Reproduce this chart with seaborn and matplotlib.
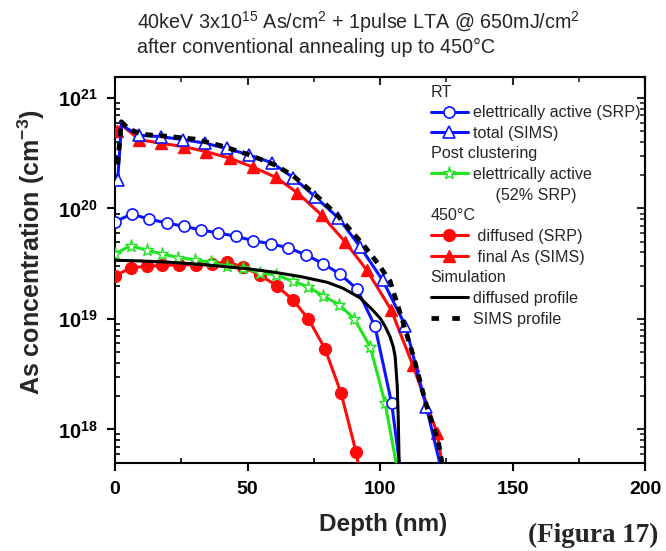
import numpy as np
import pandas as pd
import matplotlib
matplotlib.use("Agg")
import matplotlib.pyplot as plt
import seaborn as sns
from matplotlib.lines import Line2D
from matplotlib.ticker import MultipleLocator, LogLocator, FuncFormatter, NullFormatter

# ---------------- data ----------------
# RT, electrically active (SRP) - blue open circles
rt_srp_x = [0, 6.3, 13, 19.5, 26, 32.3, 39, 45.7, 52.2, 58.8, 65.4, 72.1, 78.6, 84.9, 91.4, 98.1, 104.4, 110.9]
rt_srp_y = [7.6e19, 8.9e19, 8.0e19, 7.4e19, 6.9e19, 6.4e19, 6.0e19, 5.6e19, 5.1e19, 4.8e19, 4.4e19, 3.8e19,
            3.16e19, 2.55e19, 1.86e19, 8.6e18, 1.72e18, 1.1e17]

# RT, total (SIMS) - blue open triangles
rt_sims_x = [1.0, 2.5, 4.5, 9.2, 17.2, 25.8, 34, 42.1, 50.7, 59.1, 67.3, 75.5, 84.3, 92.5, 101, 109.6, 117.5, 125.5]
rt_sims_y = [1.8e20, 6.0e20, 5.3e20, 4.6e20, 4.47e20, 4.2e20, 3.9e20, 3.5e20, 3.05e20, 2.6e20, 1.9e20, 1.28e20,
             8.2e19, 4.5e19, 2.24e19, 8.7e18, 1.6e18, 2.5e17]
rt_sims_marks = [0] + list(range(3, 18))

# Post clustering, electrically active (52% SRP) - green open stars
pc_x = [0, 5.9, 11.9, 17.9, 23.9, 30.2, 36.1, 42.1, 48.4, 54.7, 60.8, 67.1, 73, 78.4, 84.6, 90.3, 96.3, 101.9, 107.9]
pc_y = [3.9e19, 4.6e19, 4.2e19, 3.87e19, 3.6e19, 3.43e19, 3.25e19, 3.0e19, 2.9e19, 2.62e19, 2.5e19, 2.2e19,
        1.95e19, 1.62e19, 1.35e19, 1.0e19, 5.6e18, 1.74e18, 2.9e17]

# 450C, diffused (SRP) - red filled circles
d_srp_x = [0, 5.9, 11.9, 17.9, 24.3, 30.6, 36.5, 42.4, 48.4, 54.7, 61, 67.1, 73, 79.2, 85.3, 91.0, 97.0]
d_srp_y = [2.45e19, 2.9e19, 3.0e19, 3.05e19, 3.1e19, 3.1e19, 3.15e19, 3.28e19, 2.95e19, 2.5e19, 2.0e19, 1.49e19,
           1.0e19, 5.4e18, 2.14e18, 6.2e17, 1.0e17]

# 450C, final As (SIMS) - red filled triangles
f_sims_x = [0.9, 2.5, 9.2, 17.2, 26, 34.4, 43.4, 52.2, 60.6, 68.8, 78, 86.8, 95.1, 104.2, 112.4, 121.6, 126.8]
f_sims_y = [5.0e20, 5.7e20, 4.2e20, 3.9e20, 3.63e20, 3.27e20, 2.85e20, 2.36e20, 1.92e20, 1.39e20, 8.7e19, 5.0e19,
            2.75e19, 1.21e19, 3.8e18, 9.2e17, 1.5e17]
f_sims_marks = [0] + list(range(2, 17))

# Simulation: diffused profile - black solid
sim_d_x = [0, 10, 20, 30, 40, 50, 60, 70, 80, 86, 92.5, 97, 100, 102, 103.8, 105, 105.7, 106.5, 106.9, 107.2, 107.3]
sim_d_y = [3.4e19, 3.35e19, 3.27e19, 3.15e19, 3.0e19, 2.85e19, 2.65e19, 2.42e19, 2.15e19, 1.9e19, 1.55e19,
           1.22e19, 1.02e19, 8.5e18, 6.9e18, 5.6e18, 4.6e18, 2.5e18, 1.23e18, 5e17, 1e17]

# Simulation: SIMS profile - black dashed
sim_s_x = [1.0, 2.4, 5, 10, 20, 30, 40, 50, 60, 67, 77.4, 84.3, 93.7, 98.7, 103.8, 108.2, 112.6, 117.6, 122, 125.5]
sim_s_y = [2.5e20, 6.1e20, 5.3e20, 4.7e20, 4.5e20, 4.25e20, 3.7e20, 3.1e20, 2.5e20, 2.0e20, 1.22e20, 8.5e19,
           4.7e19, 3.3e19, 2.2e19, 1.02e19, 4.6e18, 1.62e18, 7.8e17, 2.5e17]

x_ticks = [0, 50, 100, 150, 200]

BLUE = "#0a14ff"
RED = "#ff0a0a"
GREEN = "#1ee61e"

# ---------------- style ----------------
sns.set_theme(style="ticks")
plt.rcParams["font.family"] = ["Liberation Sans", "DejaVu Sans"]
plt.rcParams["mathtext.fontset"] = "custom"
plt.rcParams["mathtext.rm"] = "Liberation Sans"
plt.rcParams["mathtext.bf"] = "Liberation Sans:bold"
plt.rcParams["mathtext.default"] = "regular"

fig = plt.figure(figsize=(6.66, 5.51), dpi=100)
ax = fig.add_axes([115 / 666, 1 - 462.7 / 551, 530 / 666, (462.7 - 77) / 551])
ax.set_yscale("log")

def draw(x, y, **kw):
    df = pd.DataFrame({"x": x, "y": y})
    sns.lineplot(data=df, x="x", y="y", ax=ax, estimator=None, sort=False, legend=False, **kw)

LW = 2.2
draw(d_srp_x, d_srp_y, color=RED, lw=LW, marker="o", markersize=8.5,
     markerfacecolor=RED, markeredgecolor=RED, markeredgewidth=1, zorder=3)
draw(pc_x, pc_y, color=GREEN, lw=LW, marker="*", markersize=9.5,
     markerfacecolor="white", markeredgecolor=GREEN, markeredgewidth=1, zorder=4)
draw(rt_srp_x, rt_srp_y, color=BLUE, lw=LW, marker="o", markersize=8,
     markerfacecolor="white", markeredgecolor=BLUE, markeredgewidth=1.2, zorder=5)
draw(sim_d_x, sim_d_y, color="black", lw=LW, zorder=6)
draw(f_sims_x, f_sims_y, color=RED, lw=LW, marker="^", markersize=9, markevery=f_sims_marks,
     markerfacecolor=RED, markeredgecolor=RED, markeredgewidth=1, zorder=7)
draw(rt_sims_x, rt_sims_y, color=BLUE, lw=LW, marker="^", markersize=9, markevery=rt_sims_marks,
     markerfacecolor="white", markeredgecolor=BLUE, markeredgewidth=1.2, zorder=8)
draw(sim_s_x, sim_s_y, color="black", lw=3.4, dashes=(1.6, 1.4), zorder=9)

# ---------------- axes ----------------
ax.set_xlim(0, 200)
ax.set_ylim(5e17, 1.55e21)
ax.set_xticks(x_ticks)
ax.xaxis.set_minor_locator(MultipleLocator(25))
ax.yaxis.set_major_locator(LogLocator(base=10, numticks=10))
ax.yaxis.set_minor_locator(LogLocator(base=10, subs=np.arange(2, 10), numticks=20))
ax.yaxis.set_major_formatter(FuncFormatter(lambda v, p: r"$\mathbf{10^{%d}}$" % int(round(np.log10(v)))))
ax.yaxis.set_minor_formatter(NullFormatter())
ax.set_xlabel("")
ax.set_ylabel("")
for s in ax.spines.values():
    s.set_linewidth(1.5)
    s.set_color("black")
    s.set_visible(True)
ax.tick_params(which="both", top=False, right=False, colors="black")
ax.tick_params(which="major", direction="out", length=5.5, width=1.5)
ax.tick_params(which="minor", direction="in", length=3.5, width=1.2)
ax.tick_params(axis="x", which="major", labelsize=14, pad=7.5)
ax.tick_params(axis="y", which="major", labelsize=14.5, pad=6.8)
for lab in ax.get_xticklabels():
    lab.set_fontweight("bold")
ax.set_facecolor("white")

secx = ax.secondary_xaxis("top")
secx.set_xticks(x_ticks)
secx.xaxis.set_minor_locator(MultipleLocator(25))
secx.xaxis.set_major_formatter(NullFormatter())
secx.tick_params(which="major", direction="in", length=5.5, width=1.5)
secx.tick_params(which="minor", direction="in", length=3.5, width=1.2)
secx.spines["top"].set_linewidth(1.5)

secy = ax.secondary_yaxis("right")
secy.yaxis.set_major_locator(LogLocator(base=10, numticks=10))
secy.yaxis.set_minor_locator(LogLocator(base=10, subs=np.arange(2, 10), numticks=20))
secy.yaxis.set_major_formatter(NullFormatter())
secy.yaxis.set_minor_formatter(NullFormatter())
secy.tick_params(which="major", direction="in", length=5.5, width=1.5)
secy.tick_params(which="minor", direction="in", length=3.5, width=1.2)
secy.spines["right"].set_linewidth(1.5)

# ---------------- texts ----------------
fig.text(137 / 666, 1 - 29 / 551, r"40keV 3x10$^{15}$ As/cm$^{2}$ + 1pulse LTA @ 650mJ/cm$^{2}$",
         fontsize=14.2, ha="left", va="baseline")
fig.text(137 / 666, 1 - 53 / 551, "after conventional annealing up to 450°C",
         fontsize=14.2, ha="left", va="baseline")
fig.text(31 / 666, 1 - 252.5 / 551, r"As concentration (cm$^{\mathbf{-3}}$)", rotation=90,
         fontsize=18, fontweight="bold", ha="center", va="center")
fig.text(383 / 666, 1 - 524 / 551, "Depth (nm)", fontsize=17.5, fontweight="bold", ha="center", va="center")
fig.text(658 / 666, 1 - 535 / 551, "(Figura 17)", fontsize=19.5, fontweight="bold",
         family=["Liberation Serif"], ha="right", va="center")

# ---------------- legend ----------------
blank = Line2D([], [], linestyle="none", marker=None)
entries = [
    (blank, "RT"),
    (Line2D([], [], color=BLUE, lw=LW, marker="o", ms=8, mfc="white", mec=BLUE, mew=1.2), "elettrically active (SRP)"),
    (Line2D([], [], color=BLUE, lw=LW, marker="^", ms=9, mfc="white", mec=BLUE, mew=1.2), "total (SIMS)"),
    (blank, "Post clustering"),
    (Line2D([], [], color=GREEN, lw=LW, marker="*", ms=9.5, mfc="white", mec=GREEN, mew=1), "elettrically active"),
    (blank, "     (52% SRP)"),
    (blank, "450°C"),
    (Line2D([], [], color=RED, lw=LW, marker="o", ms=8.5, mfc=RED, mec=RED), " diffused (SRP)"),
    (Line2D([], [], color=RED, lw=LW, marker="^", ms=9, mfc=RED, mec=RED), " final As (SIMS)"),
    (blank, "Simulation"),
    (Line2D([], [], color="black", lw=LW), "diffused profile"),
    (Line2D([], [], color="black", lw=3.4, dashes=(1.6, 2.8)), "SIMS profile"),
]
header_idx = [0, 3, 6, 9]
LFS = 11.6
HL = 2.33
HTP = 0.27
leg = ax.legend([e[0] for e in entries], [e[1] for e in entries], loc="upper left",
                bbox_to_anchor=((430.7 - 115) / 530, 1 - (84.5 - 77) / 385.7), frameon=False,
                fontsize=LFS, handlelength=HL, handletextpad=HTP, borderpad=0, borderaxespad=0,
                labelspacing=0.35, numpoints=1)
fig.canvas.draw()
shift = (HL + HTP) * LFS * fig.dpi / 72.0
texts = leg.get_texts()
for i in header_idx:
    texts[i].set_x(-shift)

fig.savefig("out.png", dpi=100, facecolor="white")
